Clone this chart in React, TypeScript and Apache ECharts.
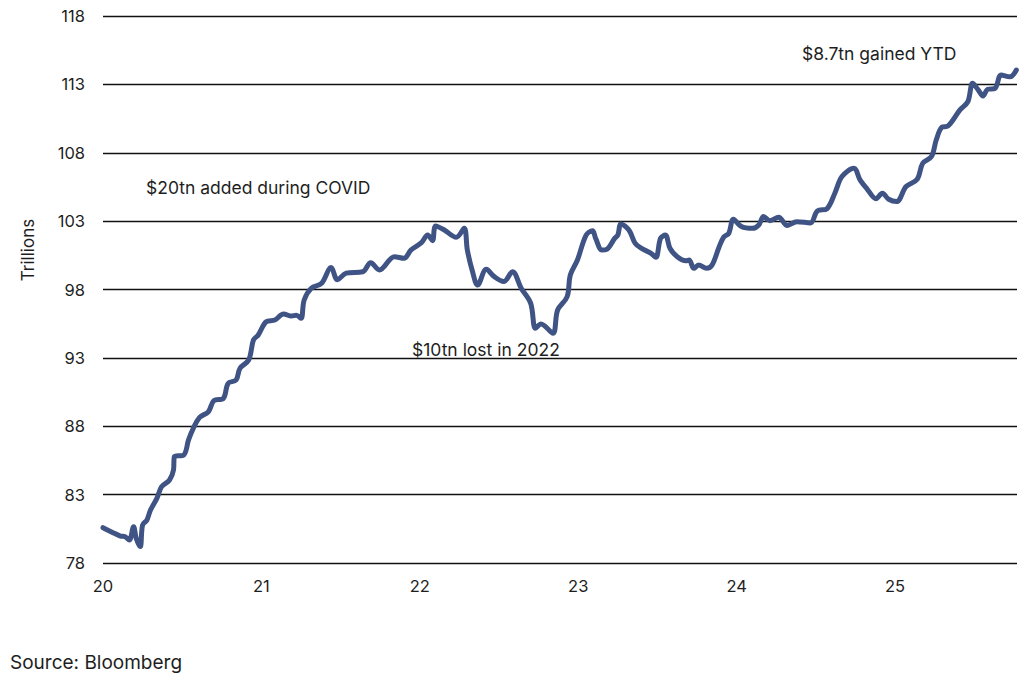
import React, { useEffect, useRef } from "react";
import * as echarts from "echarts";

// Decimal year (20 = 2020) and total value in trillions
const years: number[] = [
  20.0, 20.057, 20.11, 20.14, 20.166, 20.193, 20.21, 20.235, 20.25, 20.277,
  20.3, 20.34, 20.37, 20.42, 20.445, 20.45, 20.51, 20.54, 20.57, 20.61,
  20.665, 20.7, 20.76, 20.79, 20.84, 20.865, 20.92, 20.95, 20.98, 21.03,
  21.085, 21.14, 21.19, 21.22, 21.25, 21.27, 21.315, 21.38, 21.44, 21.48,
  21.535, 21.64, 21.69, 21.745, 21.84, 21.9, 21.945, 22.01, 22.05, 22.08,
  22.1, 22.155, 22.23, 22.28, 22.3, 22.33, 22.365, 22.42, 22.47, 22.53,
  22.585, 22.64, 22.7, 22.73, 22.765, 22.84, 22.87, 22.93, 22.95, 22.995,
  23.05, 23.09, 23.11, 23.15, 23.18, 23.23, 23.25, 23.27, 23.32, 23.36,
  23.4, 23.46, 23.49, 23.52, 23.55, 23.58, 23.625, 23.68, 23.7, 23.73,
  23.76, 23.81, 23.845, 23.89, 23.92, 23.95, 23.98, 24.03, 24.1, 24.14,
  24.17, 24.21, 24.265, 24.32, 24.38, 24.465, 24.51, 24.57, 24.62, 24.665,
  24.74, 24.78, 24.825, 24.88, 24.92, 24.96, 25.01, 25.07, 25.14, 25.175,
  25.23, 25.26, 25.295, 25.335, 25.41, 25.46, 25.49, 25.525, 25.555, 25.585,
  25.63, 25.67, 25.725, 25.766,
];

const values: number[] = [
  80.58, 80.25, 79.97, 79.92, 79.68, 80.65, 79.8, 79.2, 80.78, 81.14,
  81.88, 82.73, 83.58, 84.07, 84.8, 85.77, 85.9, 87.0, 87.85, 88.65,
  89.06, 89.87, 90.04, 91.14, 91.38, 92.24, 92.85, 94.31, 94.67, 95.64,
  95.77, 96.21, 96.06, 96.11, 95.89, 97.23, 98.09, 98.45, 99.6, 98.72,
  99.2, 99.3, 99.96, 99.43, 100.4, 100.28, 100.89, 101.42, 101.98, 101.57,
  102.64, 102.35, 101.82, 102.47, 100.89, 99.43, 98.33, 99.48, 98.94, 98.58,
  99.3, 98.09, 96.99, 95.16, 95.48, 94.8, 96.5, 97.47, 99.06, 100.16,
  101.98, 102.3, 101.74, 100.89, 100.94, 101.74, 101.98, 102.79, 102.35, 101.37,
  101.0, 100.65, 100.35, 101.74, 101.98, 101.0, 100.4, 100.1, 100.16, 99.55,
  99.79, 99.55, 99.79, 101.13, 101.86, 102.1, 103.13, 102.6, 102.47, 102.72,
  103.33, 103.03, 103.28, 102.68, 102.96, 102.87, 103.75, 103.9, 105.04, 106.26,
  106.87, 106.0, 105.33, 104.64, 105.04, 104.6, 104.43, 105.53, 106.06, 107.23,
  107.72, 108.93, 109.86, 109.96, 111.13, 111.74, 113.08, 112.6, 112.15, 112.64,
  112.7, 113.68, 113.55, 114.05,
];

const yTicks = { min: 78, max: 118, interval: 5 };
const xRange = { min: 20, max: 25.77, interval: 1 };

const annotations: { text: string; x: number; y: number }[] = [
  { text: "$20tn added during COVID", x: 146, y: 187 },
  { text: "$10tn lost in 2022", x: 412, y: 349 },
  { text: "$8.7tn gained YTD", x: 802, y: 53 },
];

const yAxisTitle = "Trillions";
const sourceNote = "Source: Bloomberg";

const FONT = "Inter, 'Noto Sans', sans-serif";
const TEXT = "#1e1e1e";

export default function App() {
  const ref = useRef<HTMLDivElement>(null);

  useEffect(() => {
    document.body.style.margin = "0";
    if (!ref.current) return;
    const chart = echarts.init(ref.current, undefined, { renderer: "svg" });
    const data = years.map((x, i) => [x, values[i]]);

    chart.setOption({
      animation: false,
      backgroundColor: "#ffffff",
      textStyle: { fontFamily: FONT },
      grid: { left: 103, right: 7, top: 16, bottom: 112, containLabel: false },
      xAxis: {
        type: "value",
        min: xRange.min,
        max: xRange.max,
        interval: xRange.interval,
        axisLine: { show: false },
        axisTick: { show: false },
        splitLine: { show: false },
        axisLabel: {
          margin: 14,
          fontSize: 16.5,
          color: TEXT,
          fontFamily: FONT,
          formatter: (v: number) => (Math.abs(v - Math.round(v)) < 1e-6 ? String(Math.round(v)) : ""),
        },
      },
      yAxis: {
        type: "value",
        min: yTicks.min,
        max: yTicks.max,
        interval: yTicks.interval,
        axisLine: { show: false },
        axisTick: { show: false },
        splitLine: { show: true, lineStyle: { color: "#111111", width: 1.4 } },
        axisLabel: { margin: 18, fontSize: 16.5, color: TEXT, fontFamily: FONT },
      },
      series: [
        {
          type: "line",
          data,
          showSymbol: false,
          smooth: 0.35,
          lineStyle: { color: "#3f5485", width: 5, cap: "round", join: "round" },
          z: 5,
        },
      ],
      graphic: [
        ...annotations.map((a) => ({
          type: "text",
          x: a.x,
          y: a.y,
          style: {
            text: a.text,
            fontSize: 17.5,
            fontFamily: FONT,
            fill: TEXT,
            textAlign: "left",
            textVerticalAlign: "middle",
          },
        })),
        {
          type: "text",
          x: 28,
          y: 250,
          rotation: Math.PI / 2,
          style: {
            text: yAxisTitle,
            fontSize: 17,
            fontFamily: FONT,
            fill: TEXT,
            textAlign: "center",
            textVerticalAlign: "middle",
          },
        },
        {
          type: "text",
          x: 10,
          y: 662,
          style: {
            text: sourceNote,
            fontSize: 19,
            fontFamily: FONT,
            fill: TEXT,
            textAlign: "left",
            textVerticalAlign: "middle",
          },
        },
      ],
    });

    return () => chart.dispose();
  }, []);

  return <div ref={ref} style={{ width: 1024, height: 675 }} />;
}
